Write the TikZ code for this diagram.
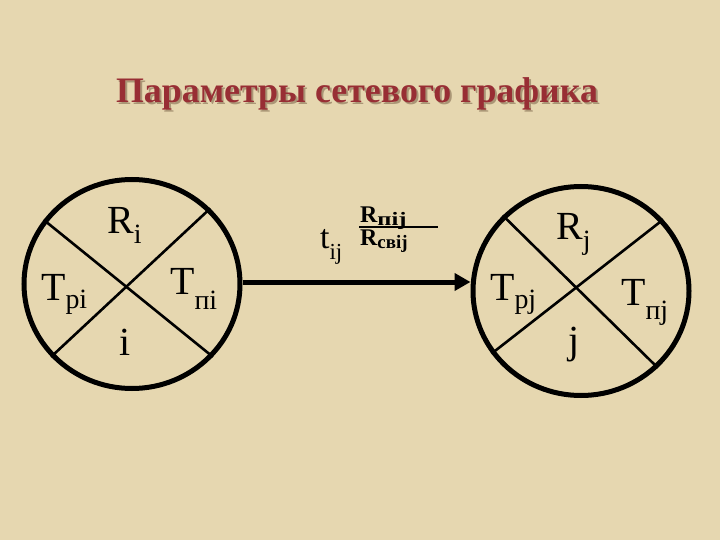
\documentclass[tikz,border=0pt]{standalone}
\usepackage{fontspec}
\setmainfont{Liberation Serif}
\usetikzlibrary{shapes.geometric,arrows.meta}
\definecolor{parch}{RGB}{230,215,176}
\definecolor{titlered}{RGB}{152,46,52}
\definecolor{shadowc}{RGB}{170,150,118}
% #1 main letter, #2 subscript, #3 drop of the subscript (bp)
\newcommand{\mylab}[3]{\fontsize{40}{40}\selectfont #1\raisebox{-#3bp}{\fontsize{28}{28}\selectfont #2}}
% #1 letter, #2 subscript, #3 horizontal stretch of the subscript
\newcommand{\myfrac}[3]{\fontsize{24}{24}\selectfont\bfseries #1\raisebox{-3bp}{\scalebox{#3}[1]{\fontsize{19}{19}\selectfont #2}}}
\tikzset{
  event/.style={draw, ellipse, line width=5bp, minimum width=216bp, minimum height=209bp, inner sep=0pt},
  cross/.style={line width=2.6bp},
  lbl/.style={anchor=base west, inner sep=0pt, text=black},
  arr/.style={line width=5bp, -{Triangle[length=16bp,width=17bp]}},
  titlefont/.style={font=\fontsize{36}{36}\selectfont\bfseries, anchor=base, inner sep=0pt}
}
\begin{document}
\begin{tikzpicture}[x=1bp,y=-1bp]
\fill[parch] (0,0) rectangle (720,540);
\useasboundingbox (0,0) rectangle (720,540);
% title with its shadow
\node[titlefont, text=shadowc] (titleshadow) at (359,105) {Параметры сетевого графика};
\node[titlefont, text=titlered] (title) at (357,103) {Параметры сетевого графика};
% events
\node[event] (L) at (132,284) {};
\node[event] (R) at (581,291) {};
\draw[cross] (L.144) -- (L.318);
\draw[cross] (L.222) -- (L.44);
\draw[cross] (R.136) -- (R.315);
\draw[cross] (R.215) -- (R.41);
% labels of the left event
\node[lbl] (ri) at (107,234) {\mylab{R}{i}{10}};
\node[lbl] (tpi) at (41,300) {\mylab{T}{pi}{8}};
\node[lbl] (tni) at (170,294) {\mylab{T}{пi}{15}};
\node[anchor=base, inner sep=0pt] (ii) at (125,355) {\fontsize{40}{40}\selectfont i};
% labels of the right event
\node[lbl] (rj) at (556,240) {\mylab{R}{j}{10}};
\node[lbl] (tpj) at (490,300) {\mylab{T}{pj}{8}};
\node[lbl] (tnj) at (621,305) {\mylab{T}{пj}{14}};
\node[anchor=base, inner sep=0pt] (jj) at (574,353) {\fontsize{40}{40}\selectfont j};
% arrow
\draw[arr] (L.east |- 0,282) -- (R.west |- 0,282);
% arrow label
\node[anchor=base west, inner sep=0pt] (tij) at (320,249) {\fontsize{34}{34}\selectfont t\raisebox{-11bp}{\fontsize{23}{23}\selectfont ij}};
\node[lbl] (rnij) at (360,223) {\myfrac{R}{пij}{1.3}};
\node[lbl] (rsvij) at (360,246) {\myfrac{R}{свij}{1.0}};
\draw[line width=2bp] (359,227.5) -- (438,227.5);
\end{tikzpicture}
\end{document}
